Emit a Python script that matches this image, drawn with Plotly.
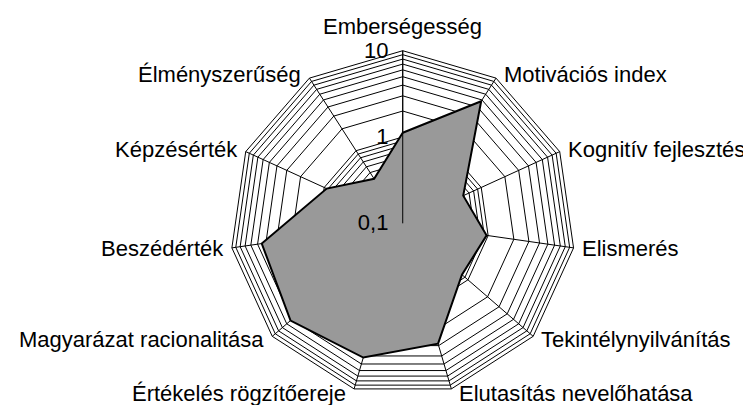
import math
import plotly.graph_objects as go

categories = ["Emberségesség", "Motivációs index", "Kognitív fejlesztés", "Elismerés",
              "Tekintélynyilvánítás", "Elutasítás nevelőhatása", "Értékelés rögzítőereje",
              "Magyarázat racionalitása", "Beszédérték", "Képzésérték", "Élményszerűség"]
values = [1.12, 4.8, 0.59, 0.96, 0.81, 2.84, 4.18, 5.25, 4.47, 0.93, 0.41]

major_ticks = [0.1, 1, 10]
major_labels = ["0,1", "1", "10"]

NB = "\u00a0"
grid_vals = []
grid_text = []
for dec in [0.1, 1]:
    for k in range(1, 10):
        v = round(dec * k, 3)
        grid_vals.append(v)
        grid_text.append(major_labels[major_ticks.index(v)] + NB if v in major_ticks else "")
grid_vals.append(10)
grid_text.append("10" + NB)

W, H = 743, 397
dom_x = [0.1275, 0.935]
dom_y = [0.0229, 0.8924]
FONT = "Liberation Sans, Arial, sans-serif"
FS = 22

fig = go.Figure()
fig.add_trace(go.Scatterpolar(
    r=values + values[:1],
    theta=categories + categories[:1],
    mode="lines",
    fill="toself",
    fillcolor="#999999",
    line=dict(color="black", width=2),
    hoverinfo="skip",
))

# category labels placed next to the polygon vertices (Excel style)
R_px = (dom_y[1] - dom_y[0]) * H / 2
cx_px = W * (dom_x[0] + dom_x[1]) / 2
cy_px = H * (1 - (dom_y[0] + dom_y[1]) / 2)
n = len(categories)
annotations = []
for i, name in enumerate(categories):
    th = math.radians(i * 360 / n)
    vx = cx_px + R_px * math.sin(th)
    vy = cy_px - R_px * math.cos(th)
    s = math.sin(th)
    if abs(s) < 0.1:
        x, y, xa = vx, vy - 24, "center"
    elif s > 0:
        x, y, xa = vx + 6, vy - 4.5 * math.cos(th), "left"
    else:
        x, y, xa = vx - 6, vy - 4.5 * math.cos(th), "right"
    annotations.append(dict(
        x=x / W, y=1 - y / H, xref="paper", yref="paper",
        text=name, showarrow=False, xanchor=xa, yanchor="middle",
        font=dict(family=FONT, size=FS, color="black"),
    ))

fig.update_layout(
    width=W, height=H,
    margin=dict(l=0, r=0, t=0, b=0),
    paper_bgcolor="white",
    showlegend=False,
    font=dict(family=FONT, size=FS, color="black"),
    annotations=annotations,
    polar=dict(
        domain=dict(x=dom_x, y=dom_y),
        bgcolor="white",
        gridshape="linear",
        radialaxis=dict(
            type="log", range=[-1, 1],
            tickvals=grid_vals, ticktext=grid_text,
            angle=90, tickangle=90, side="counterclockwise",
            showline=True, linecolor="black", linewidth=1,
            gridcolor="black", gridwidth=1,
            ticks="", tickfont=dict(family=FONT, size=FS, color="black"),
        ),
        angularaxis=dict(
            direction="clockwise", rotation=90,
            showline=True, linecolor="black", linewidth=1,
            gridcolor="black", gridwidth=1,
            ticks="", showticklabels=False,
        ),
    ),
)

fig.write_html("out.html")
